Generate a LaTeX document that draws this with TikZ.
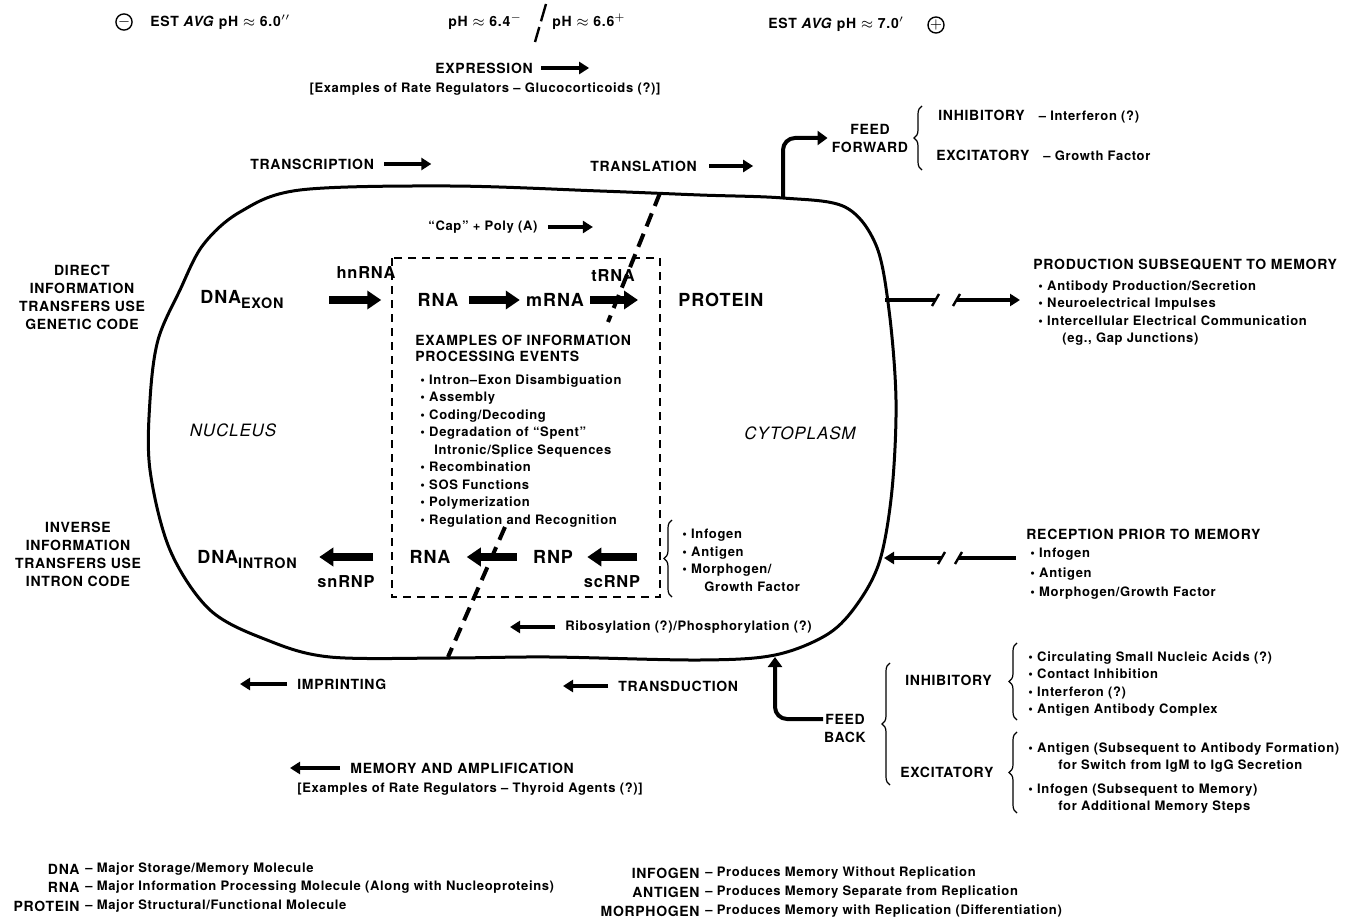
\documentclass[tikz,border=0pt]{standalone}
\usepackage{fontspec}
\setmainfont{TeX Gyre Heros}[LetterSpace=5]
\usetikzlibrary{arrows.meta,decorations.pathreplacing}

\newcommand\lst{\fontsize{6.5}{8.75}\selectfont}

\tikzset{
  every node/.style={inner sep=0pt},
  lbl/.style={font=\bfseries\fontsize{7}{9}\selectfont},
  big/.style={font=\bfseries\fontsize{9}{11}\selectfont},
  mid/.style={font=\bfseries\fontsize{8.2}{10}\selectfont},
  note/.style={font=\bfseries\lst, align=left},
  region/.style={font=\itshape\fontsize{8.5}{11}\selectfont},
  fatarrow/.style={line width=4pt, -{Triangle[length=7pt,width=9pt]}},
  thinarrow/.style={line width=1.6pt, -{Triangle[length=5pt,width=6pt]}},
  bentarrow/.style={line width=2pt, -{Triangle[length=5pt,width=7pt]}, rounded corners=6pt},
  cutline/.style={line width=2pt, dash pattern=on 7pt off 4pt},
  boxline/.style={line width=1pt, dash pattern=on 4pt off 3pt},
  brace/.style={decorate, decoration={brace, amplitude=4pt}, line width=0.6pt},
  phsign/.style={draw, circle, line width=0.7pt, minimum size=7pt, font=\bfseries\fontsize{7}{7}\selectfont},
}

\begin{document}
\begin{tikzpicture}[x=0.5pt, y=-0.5pt]
  \useasboundingbox (0,0) rectangle (1356,920);

  % pH scale
  \node[phsign] (minus) at (124,22) {$-$};
  \node[lbl, anchor=west] (phleft) at (150,22) {EST \textit{AVG} pH $\approx$ 6.0$''$};
  \node[lbl, anchor=west] (phmidA) at (448,22) {pH $\approx$ 6.4$^{-}$};
  \node[lbl, anchor=west] (phmidB) at (552,22) {pH $\approx$ 6.6$^{+}$};
  \draw[line width=1.2pt, dash pattern=on 9pt off 3pt] (546,4) -- (535,42);
  \node[lbl, anchor=west] (phright) at (768,24) {EST \textit{AVG} pH $\approx$ 7.0$'$};
  \node[phsign] (plus) at (936,25) {$+$};

  \node[lbl, anchor=west] (expr) at (435,68) {EXPRESSION};
  \draw[thinarrow] ([xshift=4pt]expr.east) -- ++(48,0);
  \node[note] (exprnote) at (485,89) {[Examples of Rate Regulators -- Glucocorticoids (?)]};

  \node[lbl, anchor=west] (transcr) at (250,164) {TRANSCRIPTION};
  \draw[thinarrow] ([xshift=5pt]transcr.east) -- ++(47,0);
  \node[lbl, anchor=west] (transl) at (590,166) {TRANSLATION};
  \draw[thinarrow] ([xshift=6pt]transl.east) -- ++(44,0);

  % the cell
  \draw[line width=1.5pt] plot[smooth cycle, tension=0.55] coordinates {
    (300,190) (450,186) (600,191) (700,195) (783,198) (845,207) (876,245)
    (889,310) (896,400) (892,490) (880,560) (858,603) (828,634) (775,655)
    (700,660) (550,657) (447,658) (330,657) (267,640) (210,610) (170,550)
    (150,470) (150,400) (158,340) (180,290) (203,245) (240,212)};
  \coordinate (ffroot) at (783,198);
  \coordinate (fbroot) at (775,657);

  % feed forward
  \node[lbl, align=center] (ff) at (870,138) {FEED\\FORWARD};
  \draw[bentarrow] (ffroot) |- ([xshift=-2pt]ff.west);
  \draw[brace] (922,170) -- (922,106);
  \node[lbl, anchor=west] (ffinh) at (938,117) {INHIBITORY\quad{\lst -- Interferon (?)}};
  \node[lbl, anchor=west] (ffexc) at (936,155) {EXCITATORY\quad{\lst -- Growth Factor}};

  % side labels
  \node[lbl, align=center] (direct) at (82,297) {DIRECT\\INFORMATION\\TRANSFERS USE\\GENETIC CODE};
  \node[lbl, align=center] (inverse) at (78,554) {INVERSE\\INFORMATION\\TRANSFERS USE\\INTRON CODE};
  \node[region] (nucleus) at (233,430) {NUCLEUS};
  \node[region] (cyto) at (800,433) {CYTOPLASM};

  % forward row
  \node[note, anchor=west] (cap) at (428,227) {``Cap'' + Poly (A)};
  \draw[thinarrow] ([xshift=5pt]cap.east) -- ++(45,0);
  \draw[boxline] (392,258) rectangle (660,597);
  \node[big, anchor=west] (dnaex) at (200,300) {DNA\raisebox{-2.5pt}{\fontsize{7.2}{9}\selectfont EXON}};
  \node[mid] (hnrna) at (366,273) {hnRNA};
  \node[big] (rnaA) at (438,300) {RNA};
  \node[big] (mrna) at (555,300) {mRNA};
  \node[mid] (trna) at (613,276) {tRNA};
  \node[big, anchor=west] (protein) at (678,300) {PROTEIN};
  \draw[fatarrow] ([xshift=-44pt]rnaA.west) -- ([xshift=-18pt]rnaA.west);
  \draw[fatarrow] ([xshift=5pt]rnaA.east) -- ([xshift=-3pt]mrna.west);
  \draw[fatarrow] ([xshift=3pt]mrna.east) -- ([xshift=-20pt]protein.west);

  \node[lbl, align=left, anchor=north west, font=\bfseries\fontsize{7}{8}\selectfont] (examples) at (415,335)
    {EXAMPLES OF INFORMATION\\PROCESSING EVENTS};
  \node[note, anchor=north west] (events) at (420,374) {\textbullet\ Intron--Exon Disambiguation\\
    \textbullet\ Assembly\\\textbullet\ Coding/Decoding\\\textbullet\ Degradation of ``Spent''\\
    \hspace*{7pt}Intronic/Splice Sequences\\\textbullet\ Recombination\\\textbullet\ SOS Functions\\
    \textbullet\ Polymerization\\\textbullet\ Regulation and Recognition};

  % inverse row
  \node[big, anchor=west] (dnain) at (197,560) {DNA\raisebox{-2.5pt}{\fontsize{7.2}{9}\selectfont INTRON}};
  \node[big] (rnaB) at (430,557) {RNA};
  \node[big] (rnp) at (553,557) {RNP};
  \node[mid] (snrnp) at (346,582) {snRNP};
  \node[mid] (scrnp) at (612,582) {scRNP};
  \draw[fatarrow] ([xshift=-18pt]rnaB.west) -- ([xshift=-45pt]rnaB.west);
  \draw[fatarrow] ([xshift=-8pt]rnp.west) -- ([xshift=8pt]rnaB.east);
  \draw[fatarrow] ([xshift=32pt]rnp.east) -- ([xshift=7pt]rnp.east);
  \draw[brace] (672,597) -- (672,520);
  \node[note, anchor=north west] (agents) at (682,529)
    {\textbullet\ Infogen\\\textbullet\ Antigen\\\textbullet\ Morphogen/\\\hspace*{11pt}Growth Factor};
  \node[note, anchor=west] (ribo) at (565,627) {Ribosylation (?)/Phosphorylation (?)};
  \draw[thinarrow] ([xshift=-5pt]ribo.west) -- ++(-45,0);

  % nucleus/cytoplasm border
  \draw[cutline] (660,193) -- (608,322);
  \draw[cutline] (505,527) -- (448,657);

  % outside the cell, below
  \node[lbl, anchor=west] (imprint) at (297,684) {IMPRINTING};
  \draw[thinarrow] ([xshift=-5pt]imprint.west) -- ++(-47,0);
  \node[lbl, anchor=west] (transd) at (618,686) {TRANSDUCTION};
  \draw[thinarrow] ([xshift=-5pt]transd.west) -- ++(-45,0);
  \node[lbl, anchor=west] (memory) at (350,768) {MEMORY AND AMPLIFICATION};
  \draw[thinarrow] ([xshift=-5pt]memory.west) -- ++(-50,0);
  \node[note] (memnote) at (470,789) {[Examples of Rate Regulators -- Thyroid Agents (?)]};

  % feed back
  \node[lbl, align=center] (fb) at (845,728) {FEED\\BACK};
  \coordinate (fbtail) at (823,719);
  \draw[bentarrow] (fbtail) -| (fbroot);
  \draw[brace] (890,785) -- (890,663);
  \node[lbl, anchor=west] (fbinh) at (905,680) {INHIBITORY};
  \node[lbl, anchor=west] (fbexc) at (900,772) {EXCITATORY};
  \draw[brace] (1017,720) -- (1017,643);
  \node[note, anchor=north west] (inhlist) at (1028,651) {\textbullet\ Circulating Small Nucleic Acids (?)\\
    \textbullet\ Contact Inhibition\\\textbullet\ Interferon (?)\\\textbullet\ Antigen Antibody Complex};
  \draw[brace] (1017,813) -- (1017,732);
  \node[note, anchor=north west] (exclist) at (1028,742) {\textbullet\ Antigen (Subsequent to Antibody Formation)\\
    \hspace*{15pt}for Switch from IgM to IgG Secretion\\[3pt]
    \textbullet\ Infogen (Subsequent to Memory)\\\hspace*{15pt}for Additional Memory Steps};

  % production and reception
  \coordinate (prodin) at (885,300);
  \coordinate (prodout) at (1020,300);
  \draw[line width=1.6pt] (prodin) -- (936,300);
  \draw[line width=1.2pt] (932,306) -- (939,294);
  \draw[line width=1.2pt] (953,306) -- (960,294);
  \draw[thinarrow] (956,300) -- (prodout);
  \node[lbl, anchor=west] (prodhead) at (1033,265) {PRODUCTION SUBSEQUENT TO MEMORY};
  \node[note, anchor=north west] (prodlist) at (1038,280) {\textbullet\ Antibody Production/Secretion\\
    \textbullet\ Neuroelectrical Impulses\\\textbullet\ Intercellular Electrical Communication\\
    \hspace*{12pt}(eg., Gap Junctions)};

  \coordinate (recin) at (884,558);
  \coordinate (recout) at (1016,558);
  \draw[line width=1.6pt] (recout) -- (958,558);
  \draw[line width=1.2pt] (955,564) -- (962,552);
  \draw[line width=1.2pt] (938,564) -- (945,552);
  \draw[thinarrow] (942,558) -- (recin);
  \node[lbl, anchor=west] (rechead) at (1026,534) {RECEPTION PRIOR TO MEMORY};
  \node[note, anchor=north west] (reclist) at (1030,548)
    {\textbullet\ Infogen\\[1pt]\textbullet\ Antigen\\[1pt]\textbullet\ Morphogen/Growth Factor};

  % legend
  \node[lbl, anchor=east] (legdna) at (80,869) {DNA};
  \node[note, anchor=west] (legdnatxt) at (85,869) {-- Major Storage/Memory Molecule};
  \node[lbl, anchor=east] (legrna) at (80,887) {RNA};
  \node[note, anchor=west] (legrnatxt) at (85,887) {-- Major Information Processing Molecule (Along with Nucleoproteins)};
  \node[lbl, anchor=east] (legprot) at (80,906) {PROTEIN};
  \node[note, anchor=west] (legprottxt) at (85,906) {-- Major Structural/Functional Molecule};
  \node[lbl, anchor=east] (leginfo) at (700,873) {INFOGEN};
  \node[note, anchor=west] (leginfotxt) at (705,873) {-- Produces Memory Without Replication};
  \node[lbl, anchor=east] (leganti) at (700,892) {ANTIGEN};
  \node[note, anchor=west] (legantitxt) at (705,892) {-- Produces Memory Separate from Replication};
  \node[lbl, anchor=east] (legmorph) at (700,911) {MORPHOGEN};
  \node[note, anchor=west] (legmorphtxt) at (705,911) {-- Produces Memory with Replication (Differentiation)};
\end{tikzpicture}
\end{document}
